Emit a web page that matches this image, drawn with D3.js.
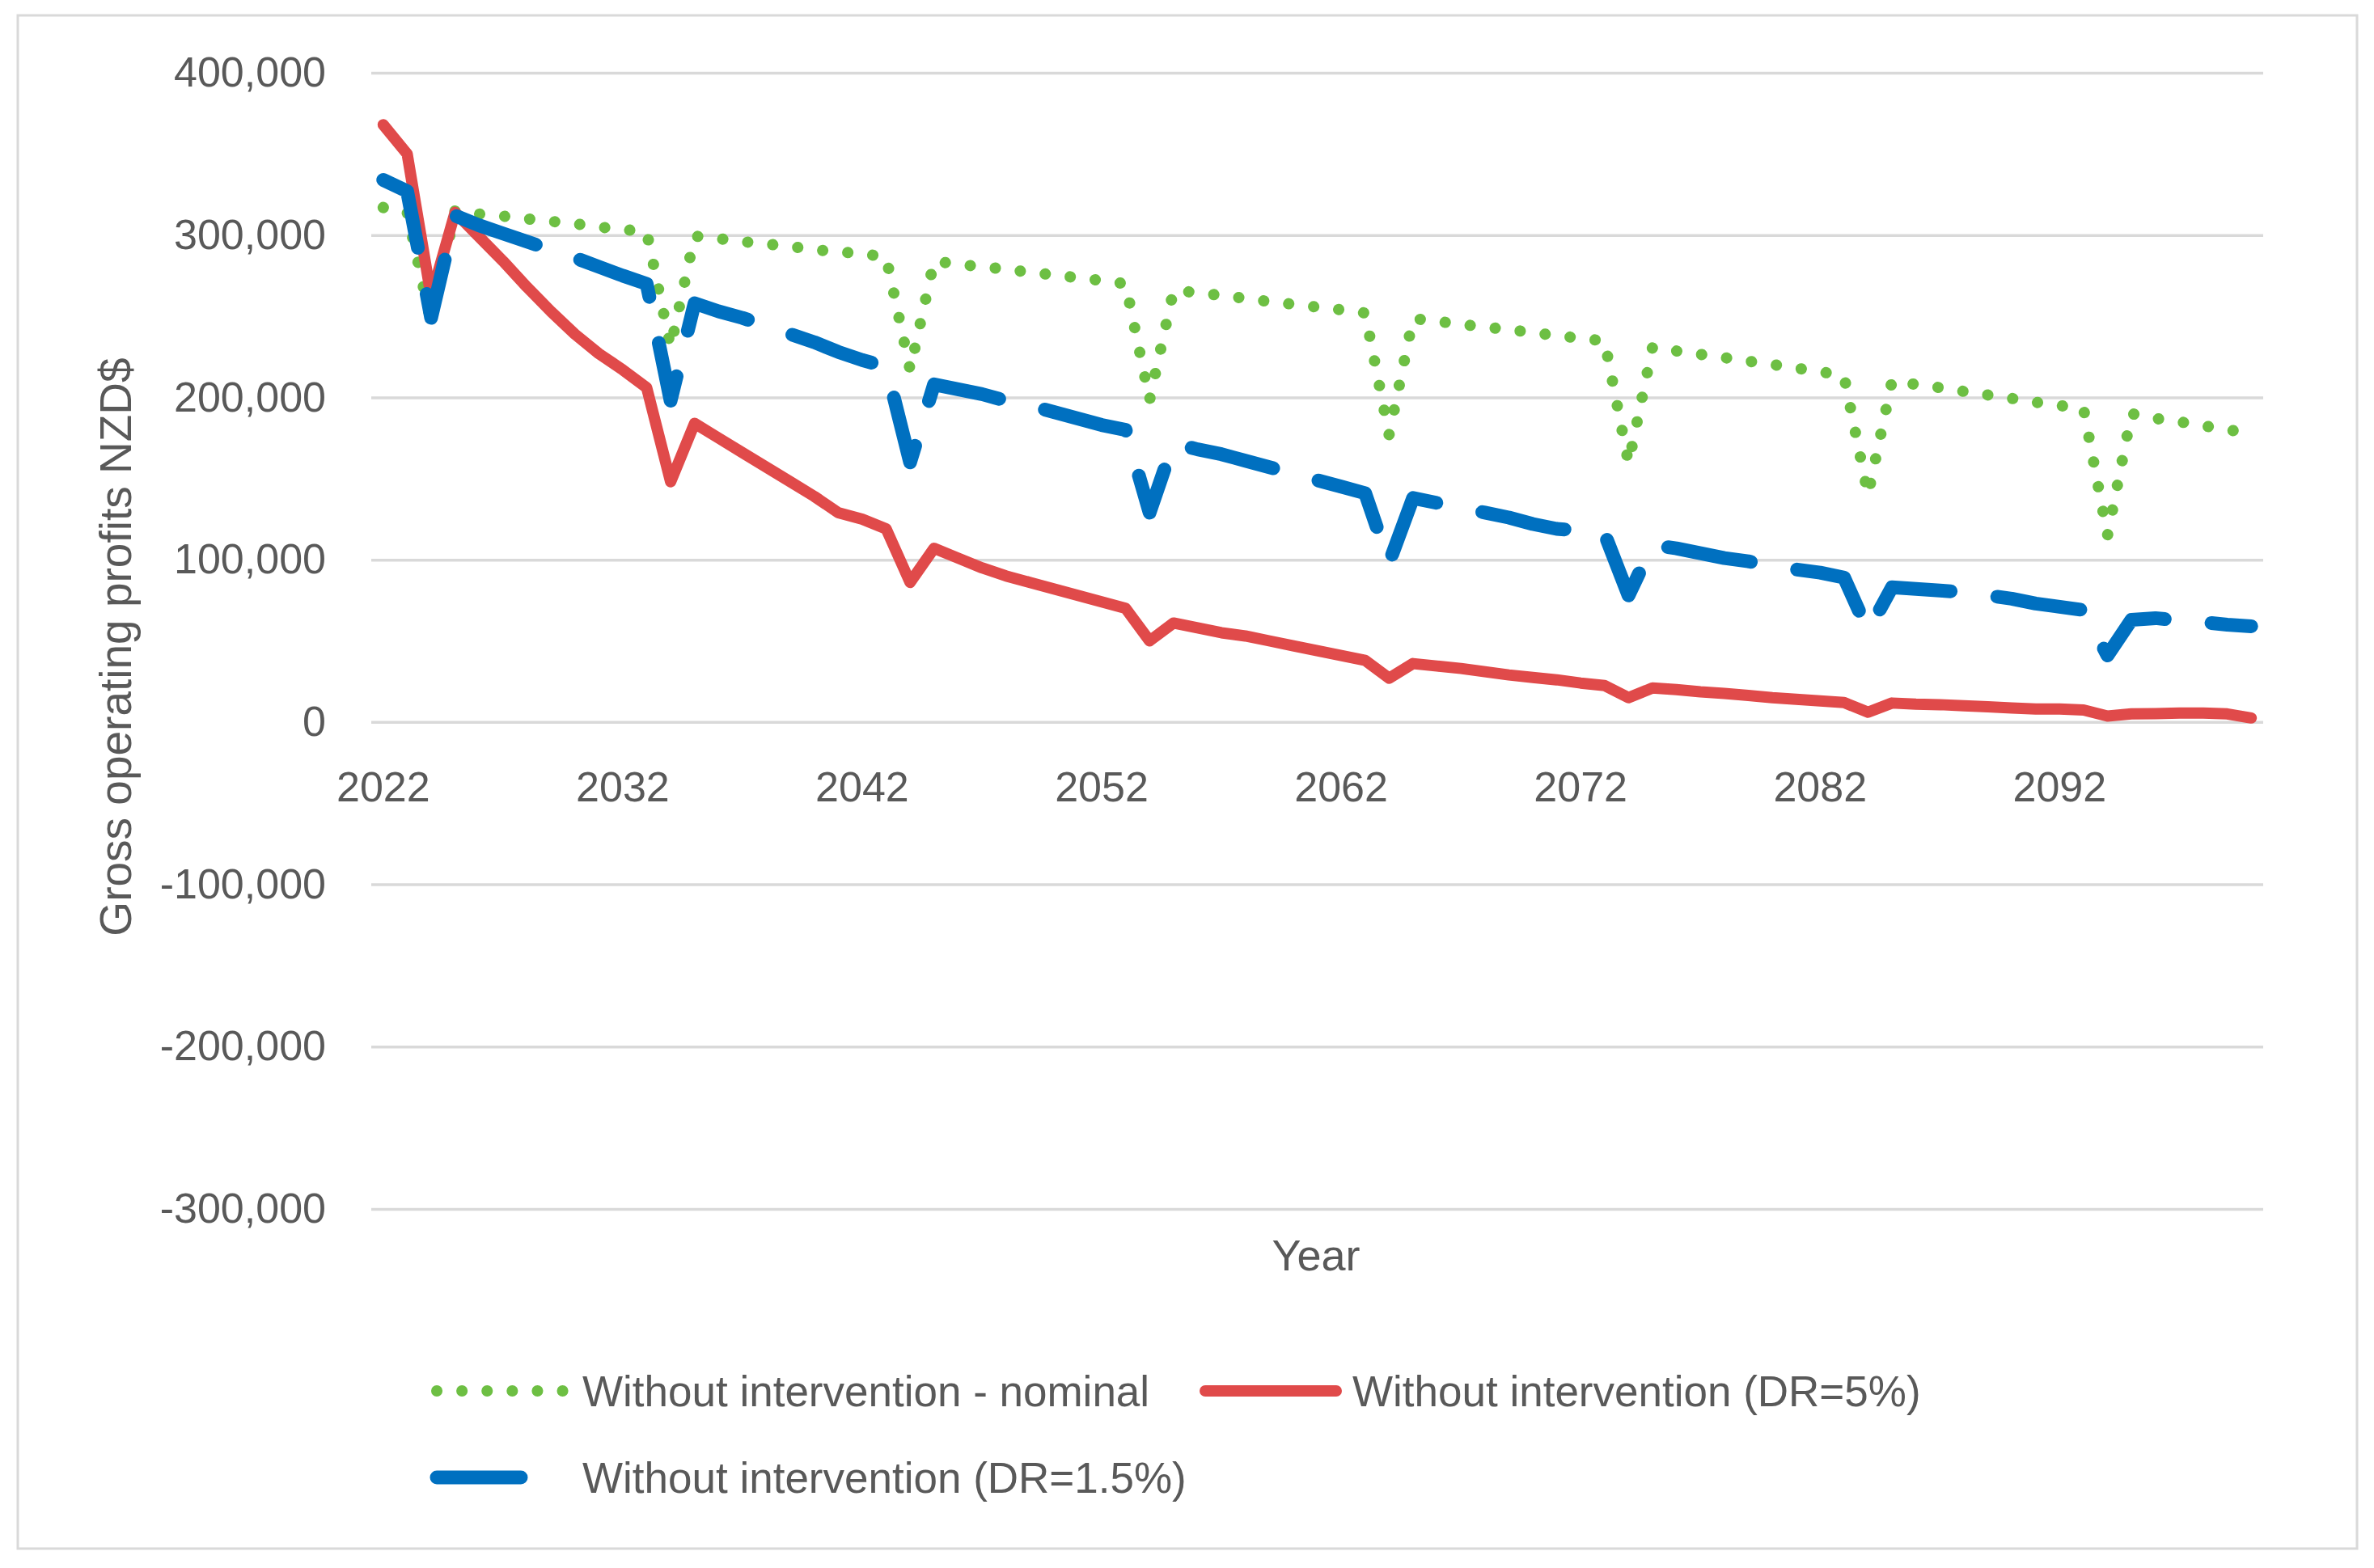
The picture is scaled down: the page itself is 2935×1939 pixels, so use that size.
<!DOCTYPE html>
<html>
<head>
<meta charset="utf-8">
<script src="https://cdn.jsdelivr.net/npm/d3@7"></script>
<style>
  body { margin: 0; background: #fff; }
  text { font-family: "Liberation Sans", Arial, sans-serif; fill: #595959; }
</style>
</head>
<body>
<svg id="chart" width="2935" height="1939"></svg>
<script>
// ---- données ----
const years = d3.range(2022, 2101);
const xTickYears = [2022, 2032, 2042, 2052, 2062, 2072, 2082, 2092];
const yTicks = [-300000, -200000, -100000, 0, 100000, 200000, 300000, 400000];

const nominal = [
  317000, 314000, 246000, 315000, 313000, 311700, 310000, 308500, 307000, 305000,
  303500, 302000, 231000, 299400, 297800, 296000, 294500, 293000, 291000, 289700,
  288500, 286500, 217000, 284000, 282000, 280500, 279000, 277000, 275500, 273700,
  272000, 270000, 198500, 266000, 264500, 262800, 261000, 259000, 257400, 255600,
  254000, 252000, 177000, 248600, 246900, 245000, 243400, 241700, 240000, 238000,
  236500, 234700, 159500, 230800, 228600, 226500, 224500, 222300, 220300, 218000,
  216000, 213000, 140000, 210000, 208000, 206000, 203700, 201500, 199400, 197000,
  195000, 193000, 115000, 190000, 187000, 185000, 182600, 180000, 178000
];

const dr5 = [
  368000, 350000, 262000, 314000, 299000, 284000, 268000, 253000, 239000, 227000,
  217000, 206000, 148000, 184000, 175000, 166000, 157000, 148000, 139000, 129000,
  125000, 119000, 86000, 107000, 101000, 95000, 90000, 86000, 82000, 78000,
  74000, 70000, 50000, 61000, 58000, 55000, 53000, 50000, 47000, 44000,
  41000, 38000, 27000, 36000, 34500, 33000, 31000, 29000, 27500, 26000,
  24000, 22500, 15000, 21000, 20000, 18600, 17600, 16400, 15000, 14000,
  13000, 12000, 6000, 11700, 11000, 10700, 10000, 9400, 8700, 8000,
  8000, 7400, 3700, 5000, 5200, 5500, 5500, 5000, 2500
];

const dr15 = [
  334000, 327000, 249000, 312000, 306000, 301000, 296000, 291000, 286000, 280500,
  275000, 270000, 198000, 258000, 253000, 249000, 244000, 239000, 234000, 228000,
  223000, 219000, 160000, 208000, 205000, 202000, 198000, 195000, 191000, 187000,
  183000, 180000, 129000, 172000, 168000, 165000, 161000, 157000, 153000, 149000,
  145000, 141000, 98000, 138000, 135000, 132000, 129000, 126000, 122000, 119000,
  118000, 116000, 78000, 109000, 107000, 104000, 101000, 99000, 96000, 94000,
  92000, 89000, 56000, 83000, 82000, 81000, 80000, 78000, 76000, 73000,
  71000, 69000, 41000, 63000, 64000, 62500, 61500, 60000, 59000
];

const seriesNames = [
  "Without intervention - nominal",
  "Without intervention (DR=5%)",
  "Without intervention (DR=1.5%)"
];

// ---- styles ----
const styles = [
  { values: nominal, color: "#6dbf43", width: 14, dash: "0.1,31" },
  { values: dr5, color: "#e04a4a", width: 14, dash: null },
  { values: dr15, color: "#0070c0", width: 17, dash: "104,58" }
];

const svg = d3.select("#chart");
const plot = { left: 459, right: 2798, top: 90, bottom: 1495 };

// cadre du graphique
svg.append("rect")
  .attr("x", 22).attr("y", 19)
  .attr("width", 2892).attr("height", 1896)
  .attr("fill", "none")
  .attr("stroke", "#d9d9d9")
  .attr("stroke-width", 3);

const x = d3.scaleBand()
  .domain(years)
  .range([plot.left, plot.right]);

const y = d3.scaleLinear()
  .domain([-300000, 400000])
  .range([plot.bottom, plot.top]);

const fmt = d3.formatLocale({ decimal: ".", thousands: ",", grouping: [3], currency: ["$", ""], minus: "-" }).format(",");

// grille + axe Y
const yAxis = svg.append("g")
  .attr("transform", `translate(${plot.left},0)`)
  .call(d3.axisLeft(y)
    .tickValues(yTicks)
    .tickSize(-(plot.right - plot.left))
    .tickPadding(56)
    .tickFormat(fmt));

yAxis.select(".domain").remove();
yAxis.selectAll(".tick line")
  .attr("stroke", "#d9d9d9")
  .attr("stroke-width", 3.5);
yAxis.selectAll(".tick text")
  .attr("font-size", 52)
  .attr("fill", "#595959")
  .attr("font-family", "Liberation Sans, Arial, sans-serif");

// axe X (croise à 0)
const xAxis = svg.append("g")
  .attr("transform", `translate(0,${y(0)})`)
  .call(d3.axisBottom(x)
    .tickValues(xTickYears)
    .tickSize(0)
    .tickPadding(61));

xAxis.select(".domain").remove();
xAxis.selectAll(".tick text")
  .attr("font-size", 52)
  .attr("fill", "#595959")
  .attr("font-family", "Liberation Sans, Arial, sans-serif");

// séries
const line = d3.line()
  .x((d, i) => x(years[i]) + x.bandwidth() / 2)
  .y(d => y(d));

styles.forEach(s => {
  svg.append("path")
    .datum(s.values)
    .attr("fill", "none")
    .attr("stroke", s.color)
    .attr("stroke-width", s.width)
    .attr("stroke-linejoin", "round")
    .attr("stroke-linecap", "round")
    .attr("stroke-dasharray", s.dash)
    .attr("d", line);
});

// titres des axes
svg.append("text")
  .attr("transform", "translate(162,800) rotate(-90)")
  .attr("text-anchor", "middle")
  .attr("font-size", 55)
  .text("Gross operating profits NZD$");

svg.append("text")
  .attr("x", 1627).attr("y", 1571)
  .attr("text-anchor", "middle")
  .attr("font-size", 54)
  .text("Year");

// légende
const legendItems = [
  { s: styles[0], name: seriesNames[0], x: 540, y: 1720, len: 160, tx: 720 },
  { s: styles[1], name: seriesNames[1], x: 1490, y: 1720, len: 162, tx: 1672 },
  { s: styles[2], name: seriesNames[2], x: 540, y: 1827, len: 160, tx: 720 }
];

const legend = svg.append("g").attr("class", "legend");
legendItems.forEach(d => {
  legend.append("line")
    .attr("x1", d.x).attr("x2", d.x + d.len)
    .attr("y1", d.y).attr("y2", d.y)
    .attr("stroke", d.s.color)
    .attr("stroke-width", d.s.width)
    .attr("stroke-linecap", "round")
    .attr("stroke-dasharray", d.s.dash);
  legend.append("text")
    .attr("x", d.tx).attr("y", d.y)
    .attr("dy", "0.36em")
    .attr("font-size", 53)
    .text(d.name);
});
</script>
</body>
</html>
